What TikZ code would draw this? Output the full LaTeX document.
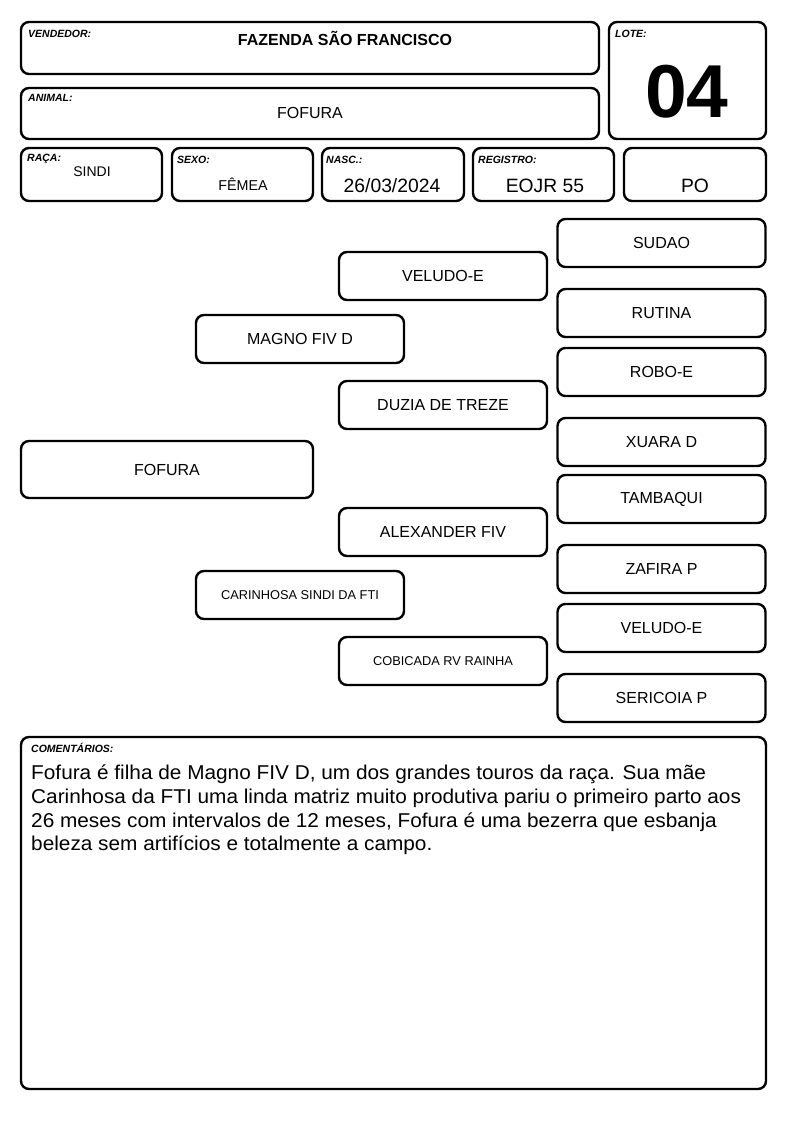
\documentclass[tikz,border=0pt]{standalone}
\usepackage{fontspec}
\setmainfont{Liberation Sans}
\begin{document}
\begin{tikzpicture}[x=1pt,y=-1pt,
  box/.style={draw=black,line width=2.4pt,rounded corners=8pt,inner sep=0pt,fill=white},
  lbl/.style={anchor=north west,inner sep=0pt,font=\fontsize{10.5}{11}\selectfont\bfseries\itshape},
  val/.style={inner sep=0pt,font=\fontsize{16}{18}\selectfont},
  ped/.style={box,minimum width=208pt,minimum height=48pt,font=\fontsize{16}{18}\selectfont},
  pedsm/.style={ped,font=\fontsize{12.8}{14}\selectfont}]
\useasboundingbox (0,0) rectangle (794,1123);
\fill[white] (0,0) rectangle (794,1123);
% header
\node[box,minimum width=578pt,minimum height=52pt] (vend) at (310,48) {};
\node[lbl] (vendl) at (28,30) {VENDEDOR:};
\node[val,font=\fontsize{16}{17}\selectfont\bfseries] (vendv) at (345,38) {FAZENDA SÃO FRANCISCO};
\node[box,minimum width=157pt,minimum height=117pt] (lote) at (687.5,80.5) {};
\node[lbl] (lotel) at (615,30) {LOTE:};
\node[inner sep=0pt,font=\fontsize{75}{77}\selectfont\bfseries] (lotev) at (687,92) {04};
\node[box,minimum width=578pt,minimum height=51pt] (animal) at (310,113.5) {};
\node[lbl] (animall) at (28,94) {ANIMAL:};
\node[val] (animalv) at (310,113) {FOFURA};
% row of fields
\node[box,minimum width=141pt,minimum height=53pt] (raca) at (91.5,174.5) {};
\node[lbl] (racal) at (27,154) {RAÇA:};
\node[val,font=\fontsize{14}{16}\selectfont] (racav) at (92,172) {SINDI};
\node[box,minimum width=141pt,minimum height=53pt] (sexo) at (242.5,174.5) {};
\node[lbl] (sexol) at (177,156) {SEXO:};
\node[val,font=\fontsize{14.3}{16}\selectfont] (sexov) at (243,184) {FÊMEA};
\node[box,minimum width=142pt,minimum height=53pt] (nasc) at (393,174.5) {};
\node[lbl] (nascl) at (326,156) {NASC.:};
\node[val,font=\fontsize{19.3}{21}\selectfont] (nascv) at (392,186) {26/03/2024};
\node[box,minimum width=141pt,minimum height=53pt] (reg) at (543.5,174.5) {};
\node[lbl] (regl) at (478,156) {REGISTRO:};
\node[val,font=\fontsize{19.3}{21}\selectfont] (regv) at (545,186) {EOJR 55};
\node[box,minimum width=142pt,minimum height=53pt] (po) at (695,174.5) {};
\node[val,font=\fontsize{19.3}{21}\selectfont] (pov) at (695,186) {PO};
% pedigree
\node[ped] (sudao) at (661.5,243) {SUDAO};
\node[ped] (rutina) at (661.5,313) {RUTINA};
\node[ped] (robo) at (661.5,372) {ROBO-E};
\node[ped] (xuara) at (661.5,442) {XUARA D};
\node[ped] (tambaqui) at (661.5,499) {TAMBAQUI};
\node[ped] (zafira) at (661.5,569) {ZAFIRA P};
\node[ped] (veludob) at (661.5,628) {VELUDO-E};
\node[ped] (sericoia) at (661.5,698) {SERICOIA P};
\node[ped] (veludo) at (443,276) {VELUDO-E};
\node[ped] (duzia) at (443,405) {DUZIA DE TREZE};
\node[ped] (alexander) at (443,532) {ALEXANDER FIV};
\node[pedsm] (cobicada) at (443,661) {COBICADA RV RAINHA};
\node[ped] (magno) at (300,339) {MAGNO FIV D};
\node[pedsm] (carinhosa) at (300,595) {CARINHOSA SINDI DA FTI};
\node[ped,minimum width=292pt,minimum height=57pt] (fofura) at (167,469.5) {FOFURA};
% comments
\node[box,minimum width=745pt,minimum height=352pt] (coment) at (393.5,913) {};
\node[lbl] (comentl) at (31,743) {COMENTÁRIOS:};
\node[anchor=north west,inner sep=0pt,font=\fontsize{20}{23.7}\selectfont] (comentv) at (31,763)
 {\scalebox{1.04}[1]{\begin{tabular}{@{}l@{}}Fofura é filha de Magno FIV D, um dos grandes touros da raça. Sua mãe\\
  Carinhosa da FTI uma linda matriz muito produtiva pariu o primeiro parto aos\\
  26 meses com intervalos de 12 meses, Fofura é uma bezerra que esbanja\\
  beleza sem artifícios e totalmente a campo.\end{tabular}}};
\end{tikzpicture}
\end{document}
